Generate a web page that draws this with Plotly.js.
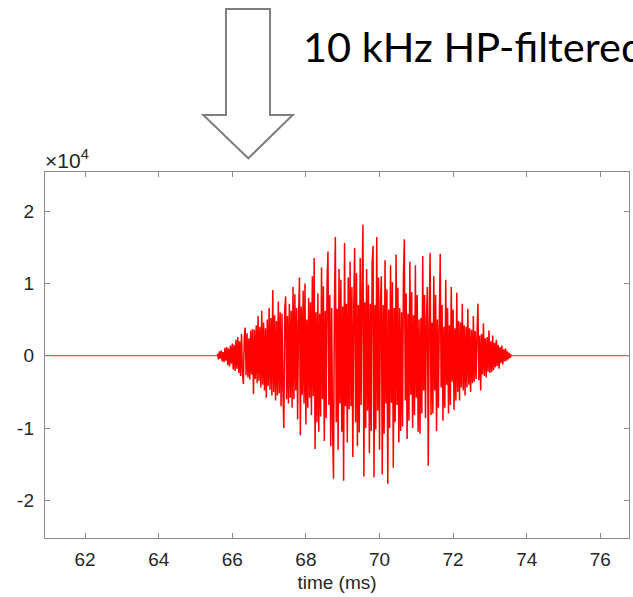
<!DOCTYPE html>
<html>
<head>
<meta charset="utf-8">
<script src="https://cdn.plot.ly/plotly-3.0.1.min.js"></script>
<style>html,body{margin:0;padding:0;background:#fff;overflow:hidden;}#chart{width:633px;height:597px;}</style>
</head>
<body>
<div id="chart"></div>
<script>
// Burst (10 kHz HP-filtered), amplitude in units of 1e4, sampled every 0.025 ms from 65.6 ms
const burstStart = 65.6;
const burstStep = 0.025;
const burstAmp = [
 0.03,-0.05,0.06,-0.04,0.07,-0.08,0.05,-0.09,0.11,-0.07,0.12,-0.13,0.10,-0.15,0.14,-0.11,0.17,-0.19,0.15,-0.21,
 0.22,-0.18,0.26,-0.24,0.20,-0.28,0.30,-0.22,-0.39,0.25,0.39,-0.27,0.31,-0.30,0.24,-0.33,0.35,-0.26,0.37,-0.53,
 0.36,-0.32,0.42,-0.38,0.55,-0.35,0.40,-0.44,0.62,-0.40,0.46,-0.48,0.38,-0.58,0.50,-0.42,0.66,-0.47,0.52,-0.55,
 0.91,-0.50,0.56,-0.62,0.48,-0.55,0.75,-0.52,0.60,-0.70,0.58,-0.49,-1.00,0.64,0.82,-0.60,0.55,-0.66,0.72,-0.58,
 0.62,-0.72,0.95,-0.60,0.85,-0.48,0.66,-0.88,0.52,1.08,-1.10,0.68,-0.54,0.90,-0.66,1.00,-0.95,0.50,-0.72,0.80,
 -0.58,0.74,-0.82,1.10,-0.56,1.35,-1.29,0.60,-0.92,0.86,-1.05,0.58,-0.84,1.22,-0.60,0.96,-1.18,0.62,-0.86,1.02,
 1.44,-0.68,0.84,-1.25,0.66,-1.00,-1.70,0.68,1.64,-0.92,0.65,-1.30,1.20,-0.66,1.05,-1.05,0.68,-1.73,1.56,-0.70,
 0.72,-1.20,1.08,-0.74,1.30,-0.70,0.95,-1.40,0.66,1.49,-0.92,1.14,-1.25,0.70,-1.06,1.35,-0.68,0.92,1.81,-1.67,
 0.74,-1.00,1.20,-0.76,0.98,-1.35,0.72,-1.04,1.28,1.52,-1.68,0.70,-1.02,1.64,-0.76,1.08,-1.30,0.74,1.10,-1.64,
 0.70,-1.08,1.32,-0.66,0.92,-1.77,0.64,-1.00,1.25,-0.65,1.02,-1.55,0.66,-0.92,1.40,-0.68,0.94,-1.20,0.66,-1.04,
 0.60,-0.98,1.10,1.61,-0.62,0.86,-1.15,0.58,-0.90,1.30,-0.54,0.88,-1.00,0.56,-0.82,1.25,-0.58,0.84,-1.05,0.50,
 -1.08,0.52,-0.80,1.38,-0.48,0.84,-0.86,0.50,0.95,-1.52,0.48,1.42,-0.82,0.46,-0.80,1.10,-0.48,0.84,-1.04,0.50,
 -0.72,0.46,1.41,-0.44,0.70,-0.90,0.40,-0.72,1.05,-0.40,0.66,-0.80,0.42,-0.68,0.95,-0.36,0.64,-0.75,0.38,-0.62,
 0.87,-0.50,0.48,-0.62,0.46,-0.44,0.72,-0.48,0.42,-0.55,0.40,-0.44,0.65,-0.40,0.38,-0.50,0.36,-0.38,0.55,-0.36,
 0.34,-0.32,0.30,0.72,-0.34,0.28,-0.48,0.30,-0.26,0.45,-0.28,0.24,-0.30,0.26,-0.22,0.35,-0.24,0.20,-0.22,0.28,
 -0.20,0.18,-0.16,0.22,-0.14,0.15,-0.18,0.12,-0.10,0.14,-0.12,0.09,-0.08,0.10,-0.07,0.06,-0.05,0.04,-0.03,0.02
];
// Flat (silent) parts of the trace
const baseTime = [60.9, 65.6, null, 73.575, 76.8];
const baseAmp = [0, 0, null, 0, 0];

const xTicks = [62, 64, 66, 68, 70, 72, 74, 76];
const yTicks = [-2, -1, 0, 1, 2];
const xRange = [60.91, 76.78];
const yRange = [-2.52, 2.54];

const titleText = '10 kHz HP-filtered';
const xTitle = 'time (ms)';
const yExponent = '×10<sup>4</sup>';

const red = 'rgb(255,0,0)';
const axisGray = '#8a8a8a';
const textGray = '#262626';

const traces = [
  {type: 'scatter', mode: 'lines', x: baseTime, y: baseAmp, line: {color: red, width: 0.9}, hoverinfo: 'skip', connectgaps: false},
  {type: 'scatter', mode: 'lines', x0: burstStart, dx: burstStep, y: burstAmp, line: {color: red, width: 1.5, simplify: false}, hoverinfo: 'skip'}
];

// plot area in pixels: left 45, right 629, top 172, bottom 538
const L = 45, R = 629, T = 172, B = 538;
const px = v => (v - L) / (R - L);
const py = v => (B - v) / (B - T);
const arrowPts = [[226,9],[270,9],[270,115],[292.7,115],[248.3,158.3],[203.3,115],[226,115]];
const arrowPath = 'M ' + arrowPts.map(p => px(p[0]).toFixed(4) + ',' + py(p[1]).toFixed(4)).join(' L ') + ' Z';

const layout = {
  width: 633, height: 597,
  margin: {l: L, r: 633 - R, t: T, b: 597 - B, pad: 0},
  paper_bgcolor: '#fff', plot_bgcolor: '#fff',
  showlegend: false,
  font: {family: 'Liberation Sans, Arial, sans-serif', size: 19, color: textGray},
  xaxis: {
    range: xRange, tickvals: xTicks, ticktext: xTicks.map(String),
    ticks: 'inside', ticklen: 5, tickwidth: 1, tickcolor: axisGray,
    showline: true, linecolor: axisGray, linewidth: 1.2, mirror: 'ticks',
    showgrid: false, zeroline: false,
    tickfont: {family: 'Liberation Sans, Arial, sans-serif', size: 19, color: textGray},
    ticklabelstandoff: 4,
    title: {text: xTitle, font: {family: 'Liberation Sans, Arial, sans-serif', size: 19, color: textGray}, standoff: 6}
  },
  yaxis: {
    range: yRange, tickvals: yTicks, ticktext: yTicks.map(String),
    ticks: 'inside', ticklen: 5, tickwidth: 1, tickcolor: axisGray,
    showline: true, linecolor: axisGray, linewidth: 1.2, mirror: 'ticks',
    showgrid: false, zeroline: false,
    tickfont: {family: 'Liberation Sans, Arial, sans-serif', size: 19, color: textGray},
    ticklabelstandoff: 6
  },
  shapes: [
    {type: 'path', xref: 'paper', yref: 'paper', path: arrowPath, line: {color: '#7f7f7f', width: 2}, fillcolor: 'rgba(0,0,0,0)', layer: 'above'}
  ],
  annotations: [
    {xref: 'paper', yref: 'paper', x: px(301), y: py(46.5), xanchor: 'left', yanchor: 'middle', text: titleText, showarrow: false,
     font: {family: 'Lato, Carlito, Calibri, sans-serif', size: 41.5, color: '#000'}},
    {xref: 'paper', yref: 'paper', x: px(43), y: py(174), xanchor: 'left', yanchor: 'bottom', text: yExponent, showarrow: false,
     font: {family: 'Liberation Sans, Arial, sans-serif', size: 21, color: textGray}}
  ]
};

Plotly.newPlot('chart', traces, layout, {displayModeBar: false, staticPlot: true});
</script>
</body>
</html>
